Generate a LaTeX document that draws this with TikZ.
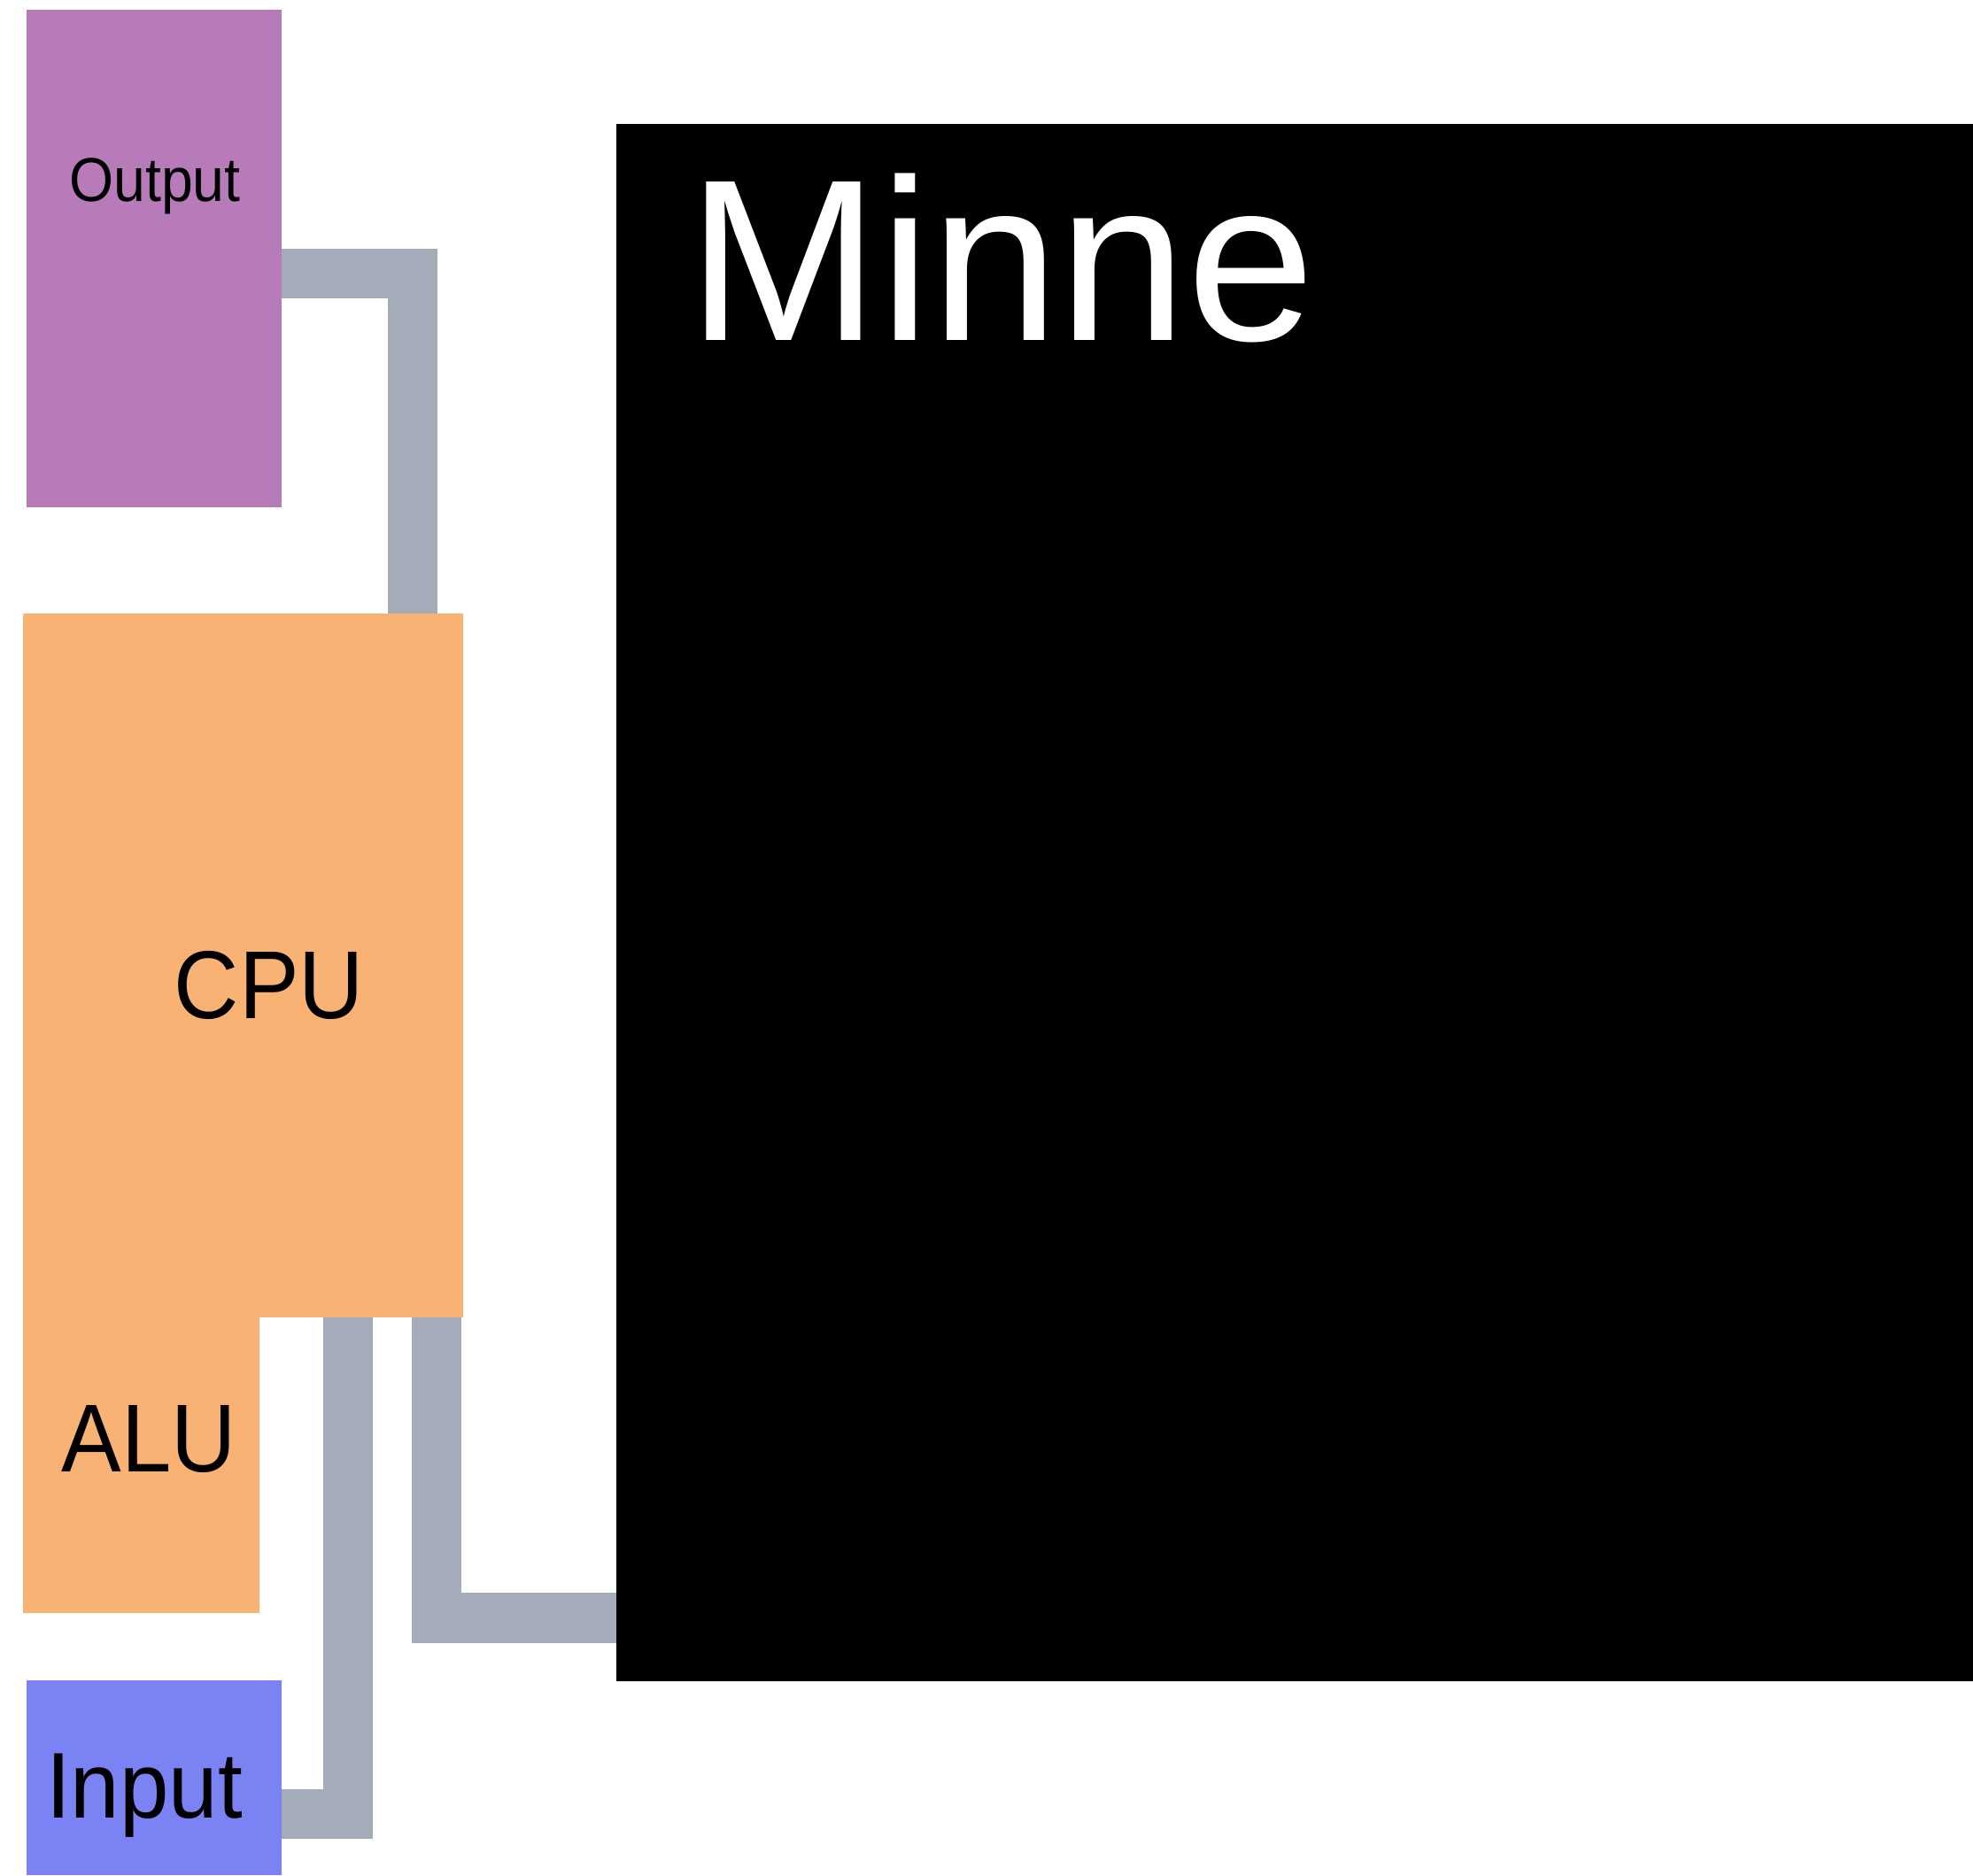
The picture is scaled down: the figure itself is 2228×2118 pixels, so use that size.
\documentclass[tikz,border=0pt]{standalone}
\usepackage{fontspec}
\setmainfont{Liberation Sans}
\definecolor{outcol}{HTML}{B87BBA}
\definecolor{cpucol}{HTML}{F8B273}
\definecolor{incol}{HTML}{7B82F3}
\definecolor{buscol}{HTML}{A4ACB9}
\newcommand{\narrow}[2]{\scalebox{#1}[1]{#2}}
\tikzset{
	unit/.style={rectangle, inner sep=0pt, outer sep=0pt},
	bus/.style={line width=0.56cm, color=buscol},
	lbl/.style={anchor=base, inner sep=0pt}
}
\begin{document}
\begin{tikzpicture}[x=0.01cm, y=-0.01cm]
			%%%%% START %%%%%
			\useasboundingbox (0, 0) rectangle (2228, 2118);
			
			\node[unit, fill=black, minimum width=15.32cm, minimum height=17.57cm] (mem) at (1462, 1019.5) {};
			\node[lbl, anchor=base west, text=white, font=\fontsize{74}{80}\selectfont] (memtext) at (776, 384) {Minne};
			
			\node[unit, fill=outcol, minimum width=2.88cm, minimum height=5.62cm] (out) at (174, 292) {};
			\node[lbl, font=\fontsize{19.9}{24}\selectfont] (outtext) at (175, 227) {\narrow{0.92}{Output}};
			
			\node[unit, fill=cpucol, minimum width=4.97cm, minimum height=7.95cm] (cpu) at (274.5, 1090.5) {};
			\node[lbl, font=\fontsize{31}{37}\selectfont] (cputext) at (304, 1150) {\narrow{0.93}{CPU}};
			
			\node[unit, fill=cpucol, minimum width=2.67cm, minimum height=3.34cm] (alu) at (159.5, 1655) {};
			\node[lbl, font=\fontsize{31}{37}\selectfont] (alutext) at (168, 1662) {\narrow{0.93}{ALU}};
			
			\node[unit, fill=incol, minimum width=2.88cm, minimum height=2.2cm] (in) at (174, 2008) {};
			\node[lbl, font=\fontsize{30}{36}\selectfont] (intext) at (163, 2053) {\narrow{0.945}{Input}};
			
			% buses
			\draw[bus] ([yshift=-0.17cm]out.east) -| ([xshift=1.915cm]cpu.north);
			\draw[bus] ([yshift=-0.41cm]in.east) -| ([xshift=1.185cm]cpu.south);
			\draw[bus] ([xshift=2.185cm]cpu.south) |- ([yshift=-8.075cm]mem.west);
			
			%%%%% END %%%%%
\end{tikzpicture}
\end{document}
